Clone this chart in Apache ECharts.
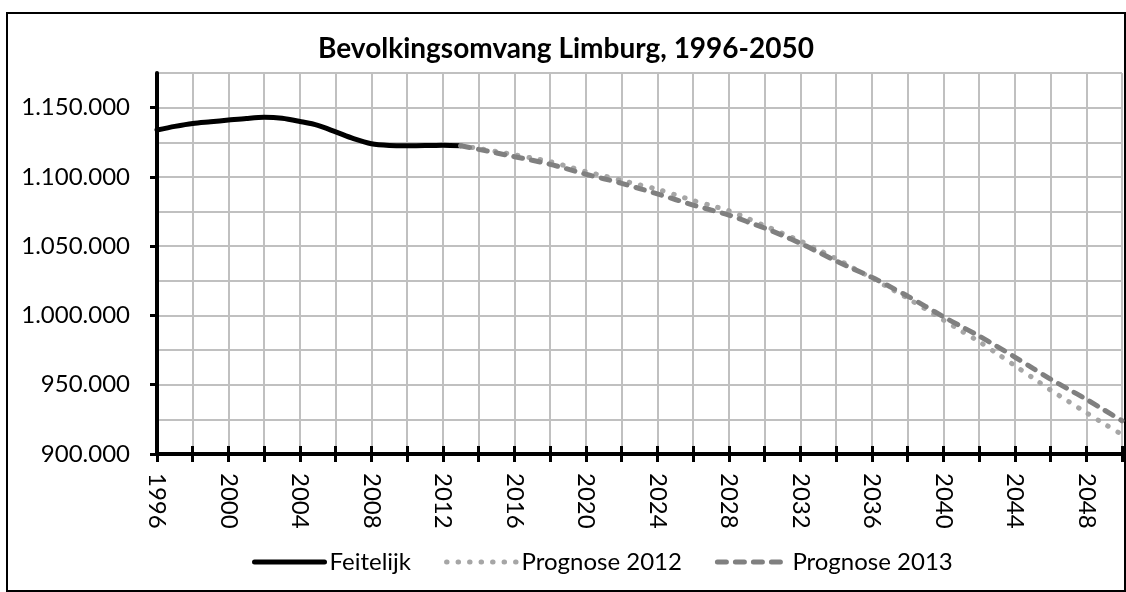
<!DOCTYPE html>
<html>

<head>
    <meta charset="utf-8">
    <title>Bevolkingsomvang Limburg</title>
    <script src="https://cdn.jsdelivr.net/npm/echarts@6/dist/echarts.min.js"></script>
    <style>
        html, body { margin: 0; padding: 0; background: #fff; }
    </style>
</head>

<body>
    <div id="main" style="width: 1126px;height:592px;"></div>
    <script type="text/javascript">
        // jaren op de x-as
        var years = ["1996", "1997", "1998", "1999", "2000", "2001", "2002", "2003", "2004", "2005",
            "2006", "2007", "2008", "2009", "2010", "2011", "2012", "2013", "2014", "2015",
            "2016", "2017", "2018", "2019", "2020", "2021", "2022", "2023", "2024", "2025",
            "2026", "2027", "2028", "2029", "2030", "2031", "2032", "2033", "2034", "2035",
            "2036", "2037", "2038", "2039", "2040", "2041", "2042", "2043", "2044", "2045",
            "2046", "2047", "2048", "2049", "2050"]

        // 1996 t/m 2013
        var feitelijk = [1133900, 1136500, 1138600, 1139800, 1141000, 1142200, 1143000, 1142300, 1140000,
            1137200, 1132500, 1127600, 1123900, 1122700, 1122500, 1122600, 1122900, 1122500]

        // 2013 t/m 2050
        var prognose2012 = [1122500, 1120500, 1118300, 1116000, 1113600, 1111000, 1107500, 1103800,
            1100700, 1097500, 1094300, 1091100, 1087100, 1083000, 1079300, 1075600, 1070300, 1064800,
            1059300, 1053700, 1047500, 1041000, 1034000, 1027000, 1019700, 1012400, 1004600, 996700,
            988900, 981100, 972600, 963800, 955000, 946200, 938000, 929800, 921800, 914000]

        var prognose2013 = [1122500, 1119900, 1117300, 1114600, 1112000, 1109100, 1105600, 1101900,
            1098700, 1095400, 1091600, 1087700, 1083700, 1079700, 1076100, 1072500, 1067800, 1063100,
            1057800, 1052100, 1045800, 1039300, 1033400, 1027500, 1020900, 1014000, 1006600, 999100,
            992100, 985200, 977700, 970000, 962000, 954100, 946800, 939500, 931800, 924000]

        var yLabels = [900000, 950000, 1000000, 1050000, 1100000, 1150000]

        var font = "Lato, 'Open Sans', sans-serif"

        function fmt(v) {
            return String(v).replace(/\B(?=(\d{3})+(?!\d))/g, ".")
        }

        // reeksen over alle jaren uitspreiden (null waar geen waarde)
        function spread(values, startYear) {
            var offset = years.indexOf(startYear)
            return years.map(function (y, i) {
                var j = i - offset
                return j >= 0 && j < values.length ? values[j] : null
            })
        }

        var myChart = echarts.init(document.getElementById("main"))

        var option = {
            animation: false,
            backgroundColor: "#fff",
            textStyle: { fontFamily: font },
            title: {
                text: "Bevolkingsomvang Limburg, 1996-2050",
                left: 313,
                top: 30,
                textStyle: { fontFamily: font, fontSize: 28, fontWeight: "bold", color: "#000" }
            },
            graphic: [{
                type: "rect",
                shape: { x: 7, y: 13, width: 1118, height: 578 },
                style: { fill: "none", stroke: "#000", lineWidth: 2 },
                silent: true
            }],
            legend: {
                left: 247,
                top: 545,
                itemWidth: 70,
                itemHeight: 14,
                itemGap: 33,
                textStyle: { fontFamily: font, fontSize: 24, color: "#000" },
                lineStyle: { width: "inherit" },
                itemStyle: { opacity: 0 },
                data: ["Feitelijk", "Prognose 2012", "Prognose 2013"]
            },
            grid: { left: 157, right: 4, top: 73, bottom: 138 },
            xAxis: [{
                type: "category",
                data: years,
                boundaryGap: false,
                position: "bottom",
                axisLine: { show: true, lineStyle: { color: "#000", width: 4 } },
                axisTick: { show: true, interval: 1, length: 8, lineStyle: { color: "#000", width: 3 } },
                axisLabel: {
                    interval: 3, rotate: -90, margin: 19,
                    fontFamily: font, fontSize: 24, color: "#000"
                },
                splitLine: { show: true, interval: 1, lineStyle: { color: "#c0c0c0", width: 2 } }
            }, {
                type: "category",
                data: years,
                boundaryGap: false,
                position: "bottom",
                axisLine: { show: false },
                axisTick: { show: true, inside: true, interval: 1, length: 8, lineStyle: { color: "#000", width: 3 } },
                axisLabel: { show: false },
                splitLine: { show: false }
            }],
            yAxis: [{
                // rasterlijnen om de 25.000
                type: "value",
                min: 900000,
                max: 1175000,
                interval: 25000,
                axisLine: { show: false },
                axisTick: { show: false },
                axisLabel: { show: false },
                splitLine: { show: true, lineStyle: { color: "#c0c0c0", width: 2 } }
            }, {
                // as, streepjes en labels om de 50.000
                type: "value",
                position: "left",
                min: 900000,
                max: 1175000,
                interval: 25000,
                axisLine: { show: true, lineStyle: { color: "#000", width: 4 } },
                axisTick: { show: true, length: 7, customValues: yLabels, lineStyle: { color: "#000", width: 3 } },
                axisLabel: {
                    customValues: yLabels, margin: 27,
                    fontFamily: font, fontSize: 24, color: "#000",
                    formatter: fmt
                },
                splitLine: { show: false }
            }],
            series: [{
                name: "Feitelijk",
                type: "line",
                data: spread(feitelijk, "1996"),
                symbol: "none",
                smooth: 0.3,
                lineStyle: { color: "#000", width: 5, cap: "round", join: "round" },
                itemStyle: { color: "#000" },
                z: 2
            }, {
                name: "Prognose 2012",
                type: "line",
                data: spread(prognose2012, "2013"),
                symbol: "none",
                smooth: 0.3,
                lineStyle: { color: "#a6a6a6", width: 5, type: [0.5, 11], cap: "round" },
                itemStyle: { color: "#a6a6a6" },
                z: 3
            }, {
                name: "Prognose 2013",
                type: "line",
                data: spread(prognose2013, "2013"),
                symbol: "none",
                smooth: 0.3,
                lineStyle: { color: "#808080", width: 5, type: [9, 9], cap: "round" },
                itemStyle: { color: "#808080" },
                z: 4
            }]
        }

        myChart.setOption(option)
    </script>
</body>

</html>
